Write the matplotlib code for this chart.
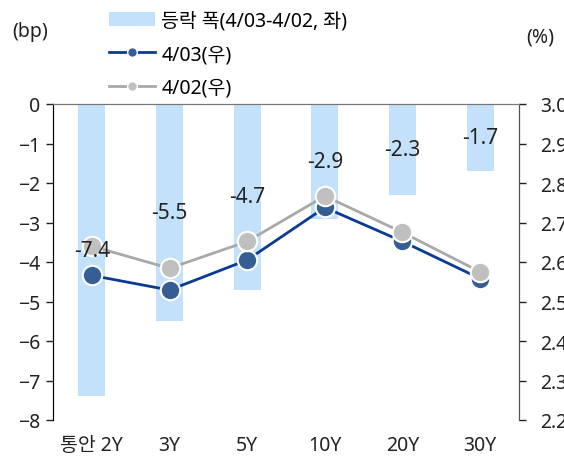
import matplotlib.pyplot as plt
from matplotlib.lines import Line2D

plt.rcParams['font.family'] = ['Noto Sans', 'Noto Sans CJK KR', 'DejaVu Sans']

categories = ["통안 2Y", "3Y", "5Y", "10Y", "20Y", "30Y"]
change_bp = [-7.4, -5.5, -4.7, -2.9, -2.3, -1.7]
yield_0403 = [2.566, 2.529, 2.605, 2.738, 2.652, 2.558]
yield_0402 = [2.640, 2.584, 2.652, 2.767, 2.675, 2.575]

x = list(range(len(categories)))

fig = plt.figure(figsize=(5.64, 4.6), dpi=100)
ax = fig.add_axes([53 / 564, 1 - 421 / 460, 466 / 564, 316 / 460])
ax2 = ax.twinx()

bars = ax.bar(x, change_bp, width=0.35, color="#C4E1FB", zorder=1)

ax.set_ylim(-8, 0)
ax.set_xlim(-0.5, 5.5)
ax.set_yticks(range(-8, 1))
ax.set_xticks(x)
ax.set_xticklabels(categories)

ax2.plot(x, yield_0403, "-o", color="#0B3A94", lw=2, markersize=14,
         markerfacecolor="#355F94", markeredgecolor="white", markeredgewidth=1.5, zorder=3)
ax2.plot(x, yield_0402, "-o", color="#A9A9A9", lw=2, markersize=14,
         markerfacecolor="#C0C0C0", markeredgecolor="white", markeredgewidth=1.5, zorder=4)
ax2.set_ylim(2.2, 3.0)
ax2.set_yticks([2.2, 2.3, 2.4, 2.5, 2.6, 2.7, 2.8, 2.9, 3.0])

# bar labels drawn above the lines
for xi, v in zip(x, change_bp):
    ax2.text(xi, v / 2, f"{v:.1f}", transform=ax.transData, ha="center", va="center",
             fontsize=15, color="#222222", zorder=6)

for a in (ax, ax2):
    a.spines["bottom"].set_visible(False)
    a.spines["top"].set_color("#777777")
    a.tick_params(labelsize=14, length=5, width=1, colors="#222222")
ax.spines["left"].set_color("#222222")
ax2.spines["right"].set_color("#555555")
ax.tick_params(axis="x", length=0, pad=11)
ax.tick_params(axis="y", pad=4)
ax2.tick_params(axis="y", pad=10)

fig.text(12 / 564, 1 - 32 / 460, "(bp)", fontsize=14, va="center", ha="left", color="#222222")
fig.text(526 / 564, 1 - 38 / 460, "(%)", fontsize=14, va="center", ha="left", color="#222222")

h1 = Line2D([], [], color="#0B3A94", lw=2, marker="o", markersize=7,
            markerfacecolor="#355F94", markeredgecolor="white", markeredgewidth=1)
h2 = Line2D([], [], color="#A9A9A9", lw=2, marker="o", markersize=7,
            markerfacecolor="#C0C0C0", markeredgecolor="white", markeredgewidth=1)
fig.legend(handles=[bars, h1, h2], labels=["등락 폭(4/03-4/02, 좌)", "4/03(우)", "4/02(우)"],
           loc="upper left", bbox_to_anchor=(99 / 564, 1 - 2 / 460),
           frameon=False, fontsize=14, handlelength=2.4, handleheight=0.8, labelspacing=0.7,
           handletextpad=0.3, borderaxespad=0.1)

fig.savefig("out.png", dpi=100)
